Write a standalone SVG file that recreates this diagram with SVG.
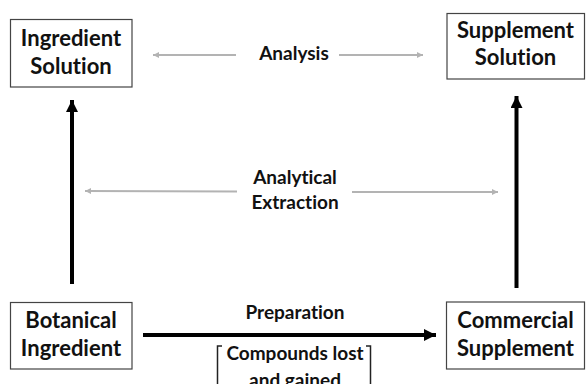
<svg xmlns="http://www.w3.org/2000/svg" width="586" height="384" viewBox="0 0 586 384">
  <defs>
    <marker id="blk" viewBox="0 0 10 10" refX="10" refY="5" markerWidth="3" markerHeight="3" orient="auto" markerUnits="strokeWidth">
      <path d="M0,0 L10,5 L0,10 Z" fill="#000"/>
    </marker>
    <marker id="gry" viewBox="0 0 10 10" refX="10" refY="5" markerWidth="3.2" markerHeight="3" orient="auto" markerUnits="strokeWidth">
      <path d="M0,0 L10,5 L0,10 Z" fill="#b3b3b3"/>
    </marker>
    <style>
      .box { fill: #fff; stroke: #444; stroke-width: 1.2; }
      .t { font-family: Lato, "Liberation Sans", sans-serif; font-weight: bold; fill: #111; text-anchor: middle; font-variant-ligatures: none; font-feature-settings: "liga" 0, "clig" 0; }
      .bt { font-size: 22px; }
      .lt { font-size: 19px; }
      .big { stroke: #000; stroke-width: 4; fill: none; marker-end: url(#blk); }
      .thin { stroke: #b3b3b3; stroke-width: 2; fill: none; marker-end: url(#gry); }
      .br { stroke: #222; stroke-width: 1.5; fill: none; }
    </style>
  </defs>
  <rect width="586" height="384" fill="#fff"/>

  <g id="connectors">
    <line class="big" x1="72" y1="284" x2="72" y2="100"/>
    <line class="big" x1="516.5" y1="288" x2="516.5" y2="96"/>
    <line class="big" x1="143" y1="335" x2="436" y2="335"/>
    <line class="thin" x1="236" y1="55" x2="153" y2="55"/>
    <line class="thin" x1="339" y1="55" x2="423" y2="55"/>
    <line class="thin" x1="237" y1="191.5" x2="85" y2="191"/>
    <line class="thin" x1="352" y1="192" x2="498" y2="192"/>
  </g>

  <g id="ingredient-solution">
    <rect class="box" x="10.5" y="19.5" width="121.5" height="67.5"/>
    <text class="t bt" x="71" y="46">Ingredient</text>
    <text class="t bt" x="71" y="74">Solution</text>
  </g>

  <g id="supplement-solution">
    <rect class="box" x="447" y="13.5" width="137.5" height="65.5"/>
    <text class="t bt" x="515.5" y="38">Supplement</text>
    <text class="t bt" x="515.5" y="65">Solution</text>
  </g>

  <g id="botanical-ingredient">
    <rect class="box" x="10.5" y="302.5" width="121.5" height="66.5"/>
    <text class="t bt" x="71" y="327.5">Botanical</text>
    <text class="t bt" x="71" y="356">Ingredient</text>
  </g>

  <g id="commercial-supplement">
    <rect class="box" x="446.5" y="302" width="138" height="67"/>
    <text class="t bt" x="515.5" y="327.5">Commercial</text>
    <text class="t bt" x="515.5" y="356">Supplement</text>
  </g>

  <g id="labels">
    <text class="t lt" x="294" y="60">Analysis</text>
    <text class="t lt" x="295" y="184">Analytical</text>
    <text class="t lt" x="295" y="208.5">Extraction</text>
    <text class="t lt" x="295" y="318.5">Preparation</text>
  </g>

  <g id="compounds-note">
    <path class="br" d="M222,346 H217.5 V390"/>
    <path class="br" d="M366,346 H370.5 V390"/>
    <text class="t lt" x="295" y="360">Compounds lost</text>
    <text class="t lt" x="295" y="387">and gained</text>
  </g>
</svg>
